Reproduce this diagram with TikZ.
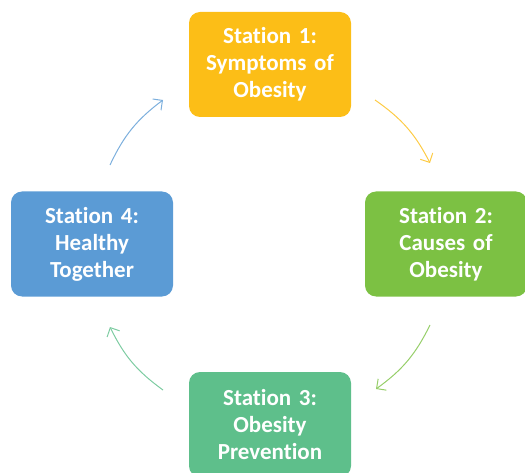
\documentclass[tikz,border=0pt]{standalone}
\usepackage{fontspec}
\setmainfont{Carlito}[Ligatures=NoCommon]
\usepackage{tikz}
\usetikzlibrary{arrows.meta}

\definecolor{stationyellow}{HTML}{FCBE17}
\definecolor{stationgreen}{HTML}{7CC143}
\definecolor{stationteal}{HTML}{5EBF8B}
\definecolor{stationblue}{HTML}{5B9BD5}

\begin{document}
\begin{tikzpicture}[x=1pt, y=-1pt,
    station/.style={rounded corners=11pt, minimum width=162pt, minimum height=105pt,
      text width=156pt, align=center, text=white, inner sep=0pt,
      font=\fontsize{23}{27}\selectfont\bfseries},
    cycle/.style={line width=1pt, -{Straight Barb[length=7pt, width=14pt]}}]
      \useasboundingbox (0,0) rectangle (525,473);

      \node[station, fill=stationyellow] (st1) at (270,64.5) {Station 1:\\Symptoms of\\Obesity};
      \node[station, fill=stationgreen] (st2) at (446,244) {Station 2:\\Causes of\\Obesity};
      \node[station, fill=stationteal] (st3) at (270,424.5) {Station 3:\\Obesity\\Prevention};
      \node[station, fill=stationblue] (st4) at (92,244) {Station 4:\\Healthy\\Together};

      \coordinate (a1) at (375,100);
      \coordinate (b1) at (430,163);
      \coordinate (a2) at (430,325);
      \coordinate (b2) at (376,389);
      \coordinate (a3) at (163,390);
      \coordinate (b3) at (110,327);
      \coordinate (a4) at (110,165);
      \coordinate (b4) at (163,100);

      \draw[cycle, stationyellow!80] (a1) to[bend left=14] (b1);
      \draw[cycle, stationgreen!80] (a2) to[bend left=14] (b2);
      \draw[cycle, stationteal!80] (a3) to[bend left=14] (b3);
      \draw[cycle, stationblue!80] (a4) to[bend left=14] (b4);
    \end{tikzpicture}
\end{document}
